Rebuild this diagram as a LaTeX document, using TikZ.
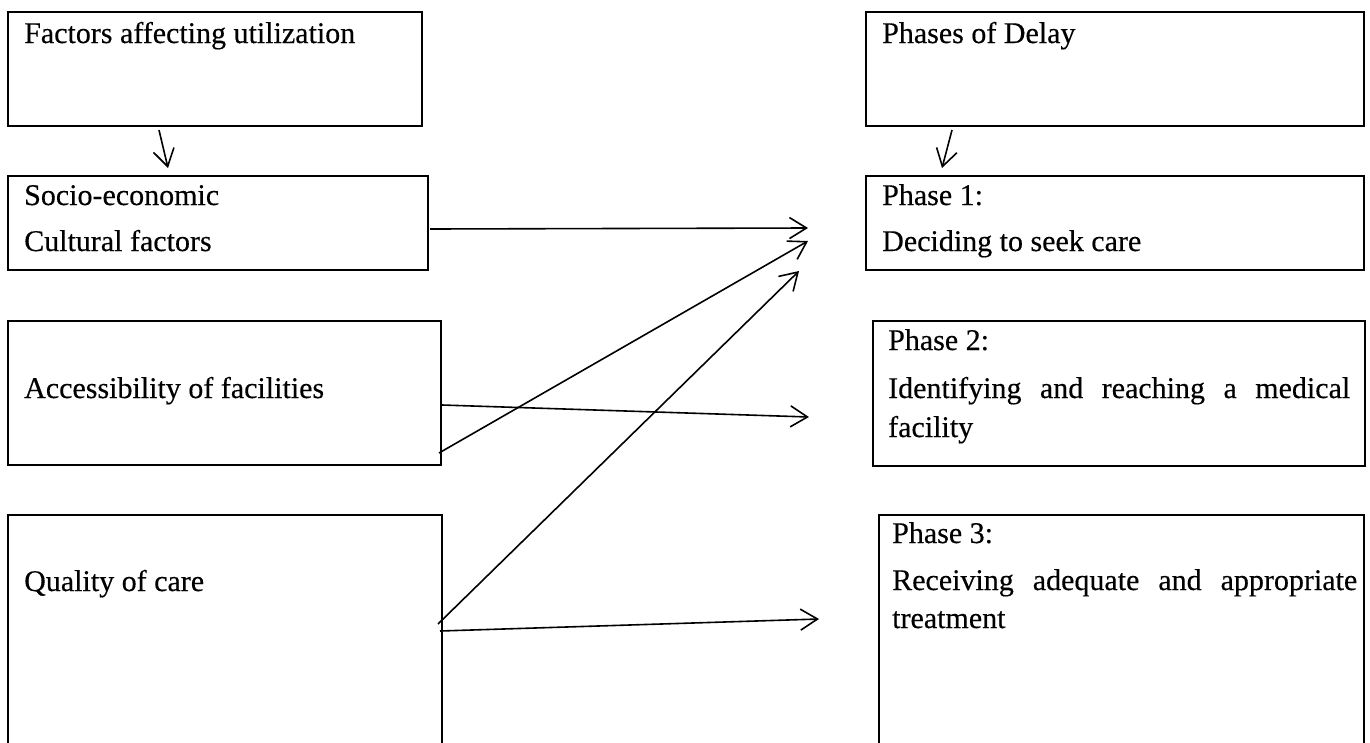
\documentclass[tikz,border=0pt]{standalone}
\usepackage{fontspec}
\setmainfont{Liberation Serif}
\newfontfamily\lbfont{Liberation Serif}[FakeBold=0.35]
\usetikzlibrary{arrows.meta}
\begin{document}
\begin{tikzpicture}[x=1pt,y=-1pt,
  box/.style={draw, line width=2.1pt, rectangle, inner sep=0pt},
  lbl/.style={anchor=base west, inner sep=0pt, font=\lbfont\fontsize{30}{35}\selectfont},
  arr/.style={line width=1.6pt, -{Straight Barb[length=17pt,width=21pt,line width=1.6pt]}}]
\useasboundingbox (0,0) rectangle (1370,742);
\clip (0,0) rectangle (1370,742);
% left column boxes
\node[box, minimum width=414pt, minimum height=114pt] (fac) at (215,69) {};
\node[box, minimum width=420pt, minimum height=94pt] (soc) at (218,223) {};
\node[box, minimum width=433pt, minimum height=144pt] (acc) at (224.5,393) {};
\node[box, minimum width=434pt, minimum height=285pt] (qua) at (225,657.5) {};
% right column boxes
\node[box, minimum width=498pt, minimum height=114pt] (pod) at (1115,69) {};
\node[box, minimum width=498pt, minimum height=94pt] (ph1) at (1115,223) {};
\node[box, minimum width=492pt, minimum height=145pt] (ph2) at (1119,393.5) {};
\node[box, minimum width=485pt, minimum height=285pt] (ph3) at (1121.5,657.5) {};
% texts
\node[lbl] (t1) at (24,43) {Factors affecting utilization};
\node[lbl] (t2) at (24,205) {Socio-economic};
\node[lbl] (t3) at (24,251) {Cultural factors};
\node[lbl] (t4) at (24,398) {Accessibility of facilities};
\node[lbl] (t5) at (24,591) {Quality of care};
\node[lbl] (t6) at (882,43) {Phases of Delay};
\node[lbl] (t7) at (882,205) {Phase 1:};
\node[lbl] (t8) at (882,251) {Deciding to seek care};
\node[lbl] (t9) at (888,350) {Phase 2:};
\node[lbl] (t10) at (888,398) {\makebox[462pt][s]{Identifying and reaching a medical}};
\node[lbl] (t11) at (888,437) {facility};
\node[lbl] (t12) at (892,543) {Phase 3:};
\node[lbl] (t13) at (892,590) {\makebox[465pt][s]{Receiving adequate and appropriate}};
\node[lbl] (t14) at (892,628) {treatment};
% connector end points
\coordinate (s1) at (159,130);  \coordinate (e1) at (168,168);
\coordinate (s2) at (952,130);  \coordinate (e2) at (942,168);
\coordinate (sA) at (430,229);  \coordinate (eA) at (808,228);
\coordinate (sB) at (439,453);  \coordinate (eB) at (808,241);
\coordinate (sC) at (438,624);  \coordinate (eC) at (799,271);
\coordinate (sD) at (442,405);  \coordinate (eD) at (809,417);
\coordinate (sE) at (440,631);  \coordinate (eE) at (819,619);
\draw[arr] (s1) -- (e1);
\draw[arr] (s2) -- (e2);
\draw[arr] (sA) -- (eA);
\draw[arr] (sB) -- (eB);
\draw[arr] (sC) -- (eC);
\draw[arr] (sD) -- (eD);
\draw[arr] (sE) -- (eE);
\end{tikzpicture}
\end{document}
